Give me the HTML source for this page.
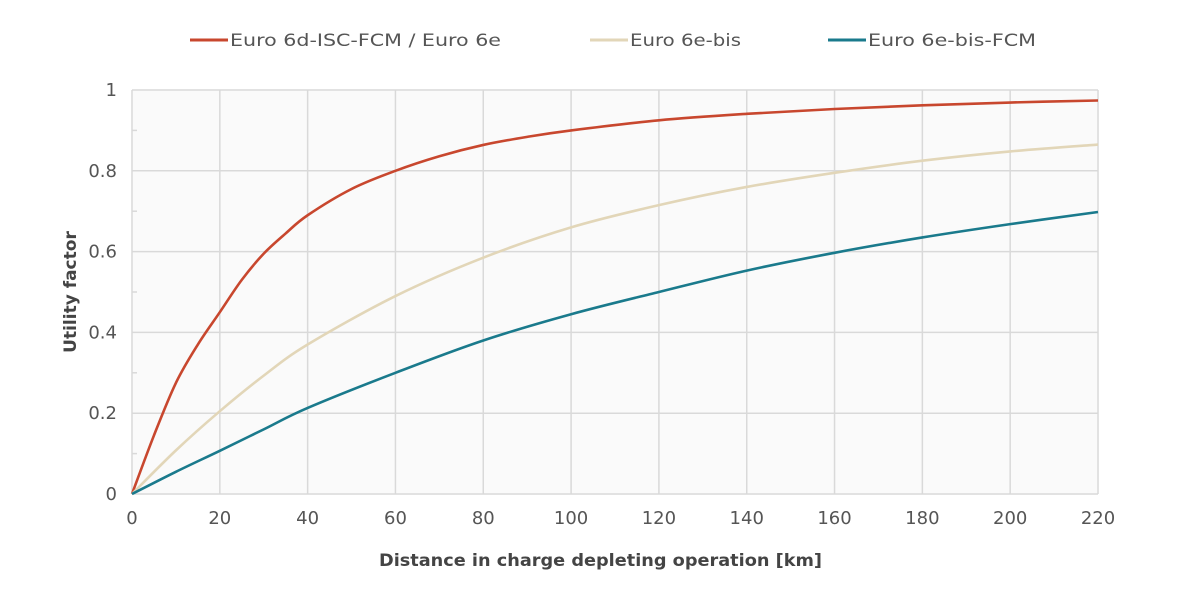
<!DOCTYPE html>
<html><head><meta charset="utf-8"><style>
body{margin:0;background:#fff;}
svg text{font-family:"DejaVu Sans","Liberation Sans",sans-serif;fill:#555;}
</style></head><body>
<svg id="s" width="1200" height="600" viewBox="0 0 1200 600">
<rect x="132" y="90" width="966" height="404" fill="#fafafa"/>
<g id="grid" stroke="#d9d9d9" stroke-width="1.5"></g>
<g id="lab" font-size="18"></g>
<g font-size="17">
<line x1="190" y1="40" x2="228" y2="40" stroke="#c8472e" stroke-width="3"/>
<text x="230" y="46" textLength="271" lengthAdjust="spacingAndGlyphs">Euro 6d-ISC-FCM / Euro 6e</text>
<line x1="590" y1="40" x2="628" y2="40" stroke="#e2d6b8" stroke-width="3"/>
<text x="630" y="46" textLength="111" lengthAdjust="spacingAndGlyphs">Euro 6e-bis</text>
<line x1="828" y1="40" x2="866" y2="40" stroke="#1a7a8c" stroke-width="3"/>
<text x="868" y="46" textLength="168" lengthAdjust="spacingAndGlyphs">Euro 6e-bis-FCM</text>
</g>
<text x="379" y="566" font-size="17" font-weight="bold" textLength="443" lengthAdjust="spacingAndGlyphs" style="fill:#444">Distance in charge depleting operation [km]</text>
<text transform="translate(76,292) rotate(-90)" text-anchor="middle" font-size="17" font-weight="bold" style="fill:#444">Utility factor</text>
<g id="curves" fill="none" stroke-width="2.6"></g>
</svg>
<script>
var X=d=>132+d*966/220, Y=v=>494-v*404, ns="http://www.w3.org/2000/svg";
var g=document.getElementById('grid'),l=document.getElementById('lab');
function el(p,t,a,txt){var e=document.createElementNS(ns,t);for(var k in a)e.setAttribute(k,a[k]);if(txt!=null)e.textContent=txt;p.appendChild(e);return e;}
for(var d=0;d<=220;d+=20){el(g,'line',{x1:X(d),x2:X(d),y1:90,y2:494});el(l,'text',{x:X(d),y:524,'text-anchor':'middle'},d);}
for(var i=0;i<=5;i++){var v=i*0.2;el(g,'line',{x1:132,x2:1098,y1:Y(v),y2:Y(v)});el(l,'text',{x:117,y:Y(v)+6,'text-anchor':'end'},i==0?'0':i==5?'1':v.toFixed(1));}
for(var i=1;i<10;i+=2){el(g,'line',{x1:132,x2:137,y1:Y(i/10),y2:Y(i/10)});}
var data=[["#c8472e",[[0,0],[5,0.145],[10,0.275],[15,0.37],[20,0.45],[25,0.53],[30,0.595],[35,0.645],[40,0.69],[50,0.755],[60,0.80],[70,0.836],[80,0.864],[90,0.884],[100,0.90],[120,0.925],[140,0.941],[160,0.953],[180,0.962],[200,0.969],[220,0.974]]],
["#e2d6b8",[[0,0],[10,0.108],[20,0.205],[30,0.293],[40,0.37],[60,0.49],[80,0.585],[100,0.66],[120,0.715],[140,0.76],[160,0.795],[180,0.825],[200,0.848],[220,0.865]]],
["#1a7a8c",[[0,0],[10,0.055],[20,0.107],[30,0.16],[40,0.213],[60,0.30],[80,0.38],[100,0.445],[120,0.50],[140,0.553],[160,0.597],[180,0.635],[200,0.668],[220,0.698]]]];
var c=document.getElementById('curves');
data.forEach(function(s){var p=s[1].map(q=>[X(q[0]),Y(q[1])]);var dstr="M"+p[0];
for(var i=0;i<p.length-1;i++){var p0=p[i-1]||p[i],p1=p[i],p2=p[i+1],p3=p[i+2]||p2;
var c1=[p1[0]+(p2[0]-p0[0])/6,p1[1]+(p2[1]-p0[1])/6],c2=[p2[0]-(p3[0]-p1[0])/6,p2[1]-(p3[1]-p1[1])/6];
dstr+=" C"+c1+" "+c2+" "+p2;}
el(c,'path',{d:dstr,stroke:s[0]});});
</script>
</body></html>
